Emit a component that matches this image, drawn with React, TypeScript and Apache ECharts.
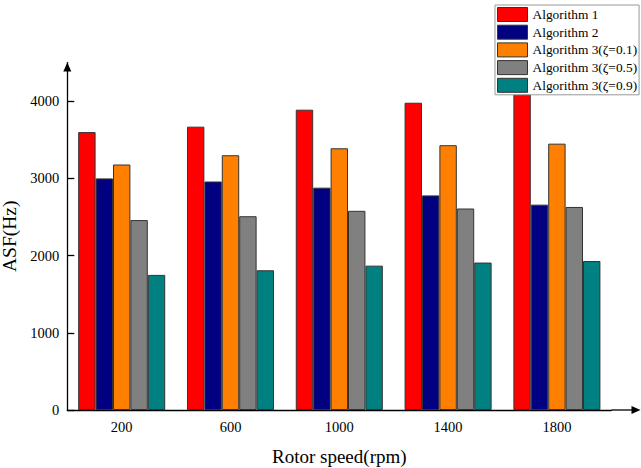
import React, { useEffect, useRef } from "react";
import * as echarts from "echarts";

const categories = ["200", "600", "1000", "1400", "1800"];
const seriesNames = [
  "Algorithm 1",
  "Algorithm 2",
  "Algorithm 3(ζ=0.1)",
  "Algorithm 3(ζ=0.5)",
  "Algorithm 3(ζ=0.9)",
];
const algorithm1 = [3600, 3670, 3890, 3980, 4090];
const algorithm2 = [3000, 2960, 2880, 2780, 2660];
const algorithm3z01 = [3180, 3300, 3390, 3430, 3450];
const algorithm3z05 = [2460, 2510, 2580, 2610, 2630];
const algorithm3z09 = [1750, 1810, 1870, 1910, 1930];
const yTickMax = 4000;
const yMax = 4500;
const colors = ["#FF0000", "#000080", "#FF8000", "#808080", "#008080"];

const W = 641;
const H = 468;
const GRID_LEFT = 67.3;
const GRID_RIGHT = 29.7;
const GRID_TOP = 62.6;
const GRID_BOTTOM = 58;
const FONT = "'Liberation Serif', 'Times New Roman', serif";

export default function App() {
  const ref = useRef<HTMLDivElement>(null);
  useEffect(() => {
    document.body.style.margin = "0";
    if (!ref.current) return;
    const chart = echarts.init(ref.current, null, { renderer: "svg" });
    const allData = [algorithm1, algorithm2, algorithm3z01, algorithm3z05, algorithm3z09];
    const axisEndX = W - GRID_RIGHT;
    const axisY = H - GRID_BOTTOM;
    const arrowTip = 640.5;
    chart.setOption({
      animation: false,
      backgroundColor: "#fff",
      grid: {
        left: GRID_LEFT,
        right: GRID_RIGHT,
        top: GRID_TOP,
        bottom: GRID_BOTTOM,
        containLabel: false,
        outerBoundsMode: "none",
      },
      legend: {
        orient: "vertical",
        left: 495,
        top: 5,
        itemWidth: 30,
        itemHeight: 14,
        itemGap: 2.7,
        padding: [2, 2, 2, 2],
        borderColor: "#999",
        borderWidth: 1,
        backgroundColor: "#fff",
        icon: "rect",
        itemStyle: { borderColor: "#333", borderWidth: 1 },
        textStyle: { fontFamily: FONT, fontSize: 13.4, color: "#000", lineHeight: 14 },
        data: seriesNames,
      },
      xAxis: {
        type: "category",
        data: categories,
        boundaryGap: true,
        name: "Rotor speed(rpm)",
        nameLocation: "middle",
        nameGap: 37,
        nameTextStyle: { fontFamily: FONT, fontSize: 19, color: "#000" },
        axisLine: {
          lineStyle: { color: "#000", width: 1.3 },
          symbol: ["none", "triangle"],
          symbolSize: [8, 9],
          symbolOffset: [0, arrowTip - 4.5 - axisEndX],
        },
        axisTick: { inside: true, alignWithLabel: true, length: 6, lineStyle: { color: "#000", width: 1.3 } },
        axisLabel: { fontFamily: FONT, fontSize: 14.5, color: "#000", margin: 9 },
        splitLine: { show: false },
      },
      yAxis: {
        type: "value",
        min: 0,
        max: yMax,
        interval: 1000,
        name: "ASF(Hz)",
        nameLocation: "middle",
        nameGap: 47,
        nameTextStyle: { fontFamily: FONT, fontSize: 19.5, color: "#000" },
        axisLine: {
          show: true,
          lineStyle: { color: "#000", width: 1.3 },
          symbol: ["none", "triangle"],
          symbolSize: [8, 9],
          symbolOffset: [0, -4.5],
        },
        axisTick: {
          show: true,
          inside: true,
          length: 7,
          lineStyle: { color: "#000", width: 1.3 },
        },
        axisLabel: {
          fontFamily: FONT,
          fontSize: 14.5,
          color: "#000",
          margin: 8,
          showMaxLabel: false,
          formatter: (v: number) => (v > yTickMax ? "" : String(v)),
        },
        splitLine: { show: false },
      },
      graphic: [
        {
          type: "line",
          shape: { x1: axisEndX, y1: axisY, x2: arrowTip - 6, y2: axisY },
          style: { stroke: "#000", lineWidth: 1.3 },
          z: 10,
        },
      ],
      series: seriesNames.map((name, i) => ({
        name,
        type: "bar",
        data: allData[i],
        barGap: "0%",
        barCategoryGap: "20%",
        itemStyle: { color: colors[i], borderColor: "#333", borderWidth: 1 },
      })),
    });
    return () => chart.dispose();
  }, []);
  return <div ref={ref} style={{ width: W, height: H }} />;
}
